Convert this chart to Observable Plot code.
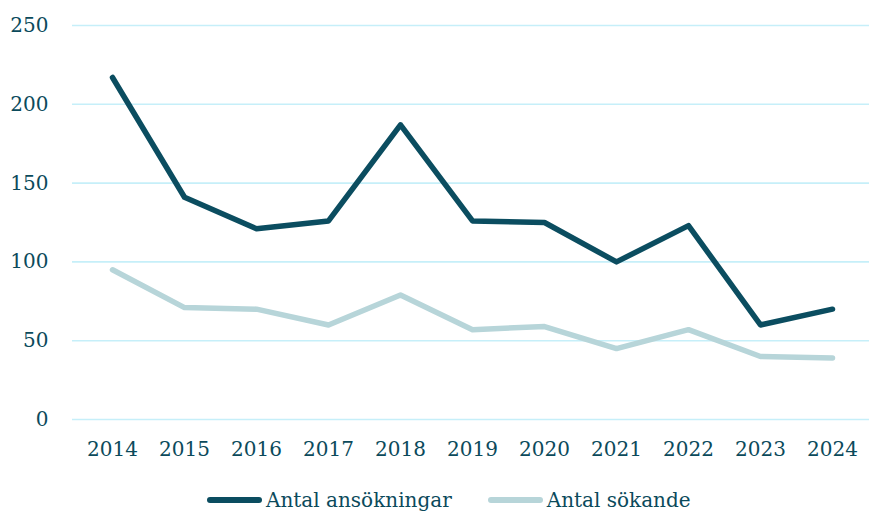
<!DOCTYPE html>
<html>
<head>
<meta charset="utf-8">
<script src="https://cdn.jsdelivr.net/npm/d3@7"></script>
<script src="https://cdn.jsdelivr.net/npm/@observablehq/plot@0.6"></script>
<style>
  html, body { margin: 0; padding: 0; background: #fff; }
  body { width: 869px; height: 512px; overflow: hidden; font-family: "DejaVu Serif", serif; }
  #legend { display: flex; align-items: center; margin-left: 207px; margin-top: 18px; color: #0b4a5b; font-size: 20px; }
  .item { display: flex; align-items: center; margin-right: 36px; }
  .sw { width: 55px; height: 6px; border-radius: 3px; margin-right: 4px; }
</style>
</head>
<body>
<div id="chart"></div>
<div id="legend"></div>
<script>
const years = ["2014","2015","2016","2017","2018","2019","2020","2021","2022","2023","2024"];
const ansokningar = [217, 141, 121, 126, 187, 126, 125, 100, 123, 60, 70];
const sokande = [95, 71, 70, 60, 79, 57, 59, 45, 57, 40, 39];
const seriesNames = ["Antal ansökningar", "Antal sökande"];
const colors = ["#0b4d60", "#b7d5d9"];
const yTicks = [0, 50, 100, 150, 200, 250];

const data = [];
years.forEach((y, i) => {
  data.push({year: y, value: ansokningar[i], series: seriesNames[0]});
  data.push({year: y, value: sokande[i], series: seriesNames[1]});
});

const textColor = "#0b4a5b";
const plot = Plot.plot({
  width: 869,
  height: 470,
  marginLeft: 72,
  marginRight: 0,
  marginTop: 25,
  marginBottom: 51,
  style: { fontFamily: "DejaVu Serif, serif", fontSize: "20px", color: textColor, background: "#fff" },
  x: { type: "point", domain: years, range: [108, 835], padding: 0, label: null },
  y: { domain: [0, 250], label: null },
  color: { domain: seriesNames, range: colors },
  marks: [
    Plot.ruleY(yTicks, { stroke: "#c6eff9", strokeWidth: 1.6 }),
    Plot.axisY(yTicks, { tickSize: 0, tickPadding: 24, label: null, fill: textColor }),
    Plot.axisX({ tickSize: 0, tickPadding: 22, label: null, fill: textColor }),
    Plot.line(data.filter(d => d.series === seriesNames[1]), { x: "year", y: "value", stroke: colors[1], strokeWidth: 5.5, strokeLinecap: "round", strokeLinejoin: "round" }),
    Plot.line(data.filter(d => d.series === seriesNames[0]), { x: "year", y: "value", stroke: colors[0], strokeWidth: 5.5, strokeLinecap: "round", strokeLinejoin: "round" })
  ]
});
document.getElementById("chart").appendChild(plot);

const legend = document.getElementById("legend");
seriesNames.forEach((name, i) => {
  const item = document.createElement("div");
  item.className = "item";
  const sw = document.createElement("span");
  sw.className = "sw";
  sw.style.background = colors[i];
  const t = document.createElement("span");
  t.textContent = name;
  item.appendChild(sw);
  item.appendChild(t);
  legend.appendChild(item);
});
</script>
</body>
</html>
